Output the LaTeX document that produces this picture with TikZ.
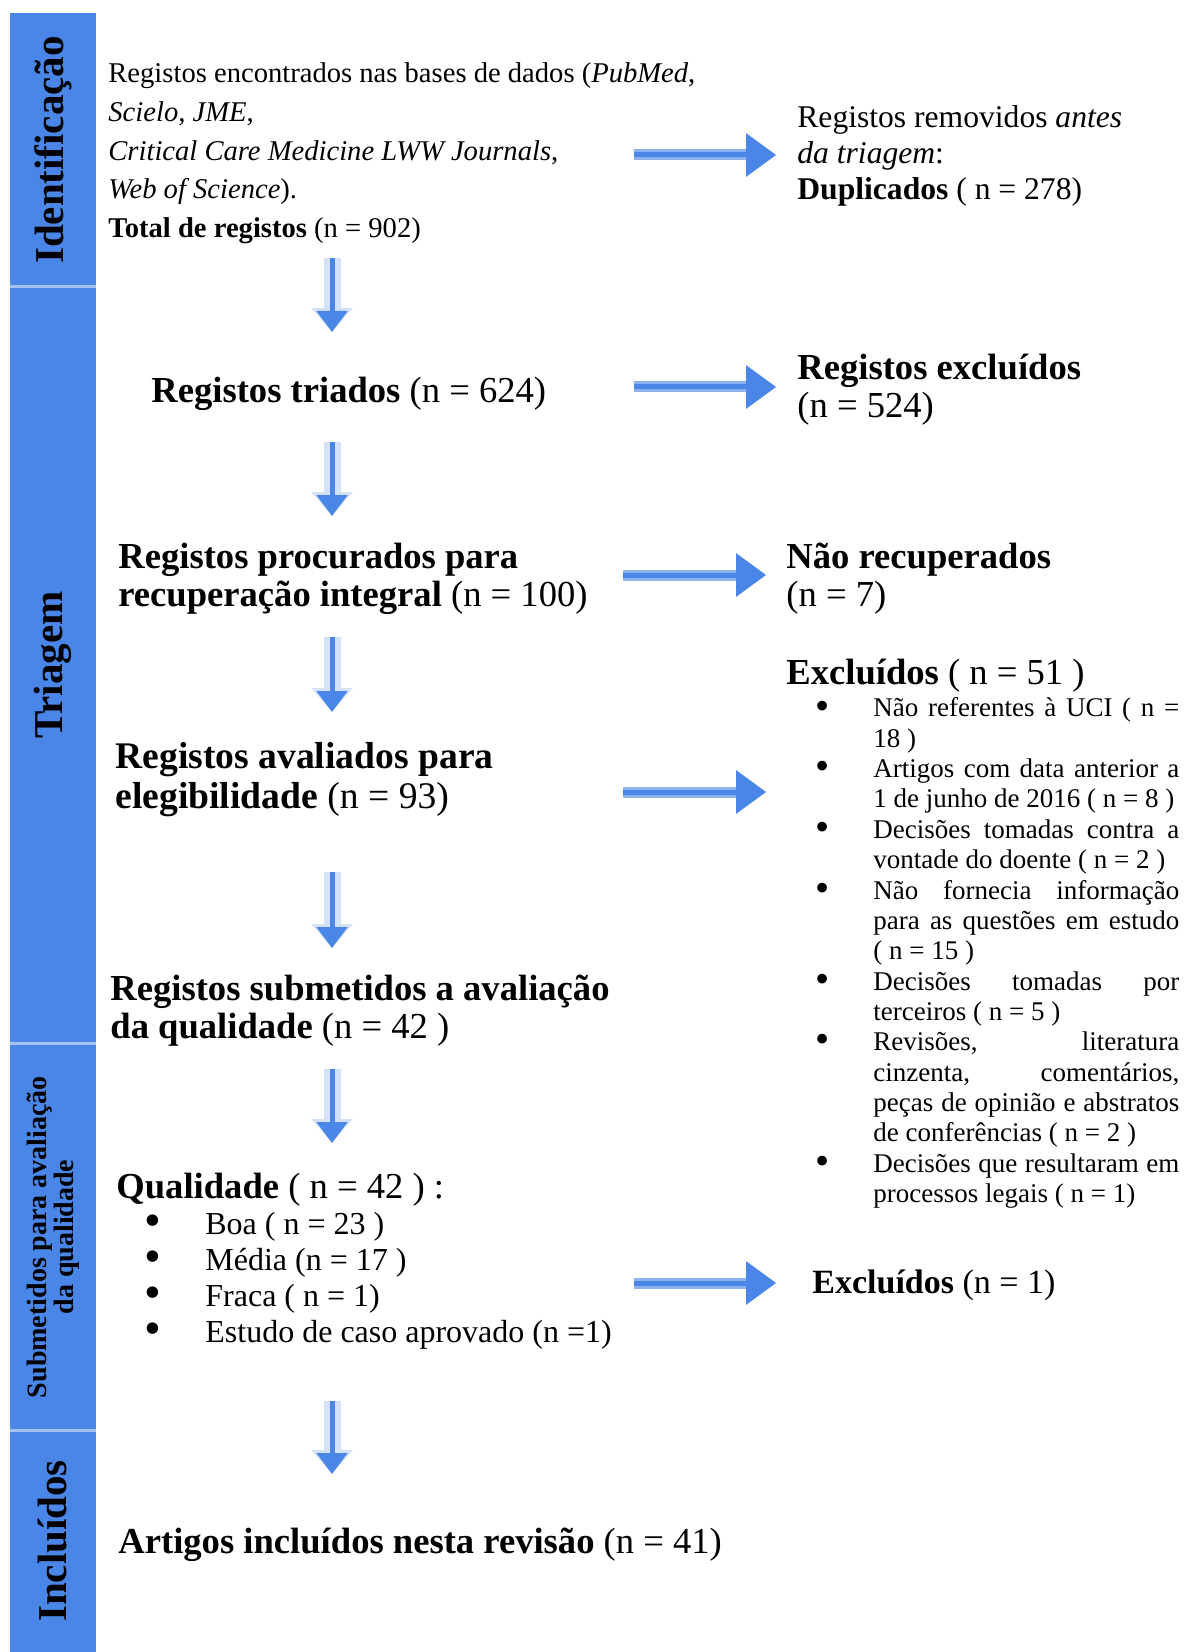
\documentclass[tikz,border=0pt]{standalone}
\usepackage{fontspec}
\setmainfont{Liberation Serif}
\usetikzlibrary{arrows.meta}

\definecolor{barblue}{HTML}{4A86E8}
\definecolor{barline}{HTML}{A4C2F4}
\definecolor{haloh}{HTML}{8DB2F0}
\definecolor{halov}{HTML}{D3E1F9}

\newcommand{\itembullet}{\llap{\smash{\raisebox{-0.08em}{\scalebox{1.5}{\textbullet}}}\hspace{22pt}}}

\begin{document}
\begin{tikzpicture}[x=0.5pt, y=-0.5pt,
  every node/.style={inner sep=0pt, anchor=base west, align=left},
  corpo/.style={font=\fontsize{14.3pt}{19.3pt}\selectfont},
  titulo/.style={font=\fontsize{18.3pt}{19pt}\selectfont},
  lista/.style={font=\fontsize{13.5pt}{15.17pt}\selectfont},
  fase/.style={anchor=center, align=center, rotate=90,
    font=\bfseries\fontsize{20.5pt}{24pt}\selectfont},
  haloH/.style={draw=haloh, line width=5.5pt, -{Triangle[width=21pt,length=15pt]}},
  setaH/.style={draw=barblue, line width=2.5pt, -{Triangle[width=21pt,length=15pt]}},
  haloV/.style={draw=halov, line width=8.5pt, -{Triangle[width=20pt,length=12pt]}},
  setaV/.style={draw=barblue, line width=2.5pt, -{Triangle[width=15pt,length=10.5pt]}}]
  \useasboundingbox (0,0) rectangle (1187,1652);

  % barra lateral das fases
  \fill[barblue] (10,13) rectangle (96,1652);
  \foreach \y in {287,1043,1430}
    \draw[barline, line width=1.5pt] (10,\y) -- (96,\y);
  \node[fase] (lid) at (53,150) {Identificação};
  \node[fase] (ltr) at (53,665) {Triagem};
  \node[fase, font=\bfseries\fontsize{14pt}{13.5pt}\selectfont] (lsub) at (53,1237)
    {Submetidos para avaliação\\da qualidade};
  \node[fase] (linc) at (53,1541) {Incluídos};

  % coluna principal (base = ultima linha)
  \node[corpo] (tot) at (108,237.4) {Registos encontrados nas bases de dados (\textit{PubMed},\\
    \textit{Scielo, JME},\\
    \textit{Critical Care Medicine LWW Journals},\\
    \textit{Web of Science}).\\
    \textbf{Total de registos} (n = 902)};
  \node[titulo] (tri) at (151,403) {\textbf{Registos triados} (n = 624)};
  \node[titulo] (proc) at (118,606) {\textbf{Registos procurados para}\\
    \textbf{recuperação integral} (n = 100)};
  \node[titulo, font=\fontsize{18.8pt}{20pt}\selectfont] (aval) at (115,808)
    {\textbf{Registos avaliados para}\\
    \textbf{elegibilidade} (n = 93)};
  \node[titulo] (subm) at (110,1038) {\textbf{Registos submetidos a avaliação}\\
    \textbf{da qualidade} (n = 42 )};
  \node[titulo] (qual) at (116,1198) {\textbf{Qualidade} ( n = 42 ) :};
  \node[font=\fontsize{16pt}{18pt}\selectfont] (qitems) at (205,1342)
    {\itembullet Boa ( n = 23 )\\
    \itembullet Média (n = 17 )\\
    \itembullet Fraca ( n = 1)\\
    \itembullet Estudo de caso aprovado (n =1)};
  \node[titulo] (incl) at (118,1553) {\textbf{Artigos incluídos nesta revisão} (n = 41)};

  % coluna das exclusoes
  \node[font=\fontsize{15.8pt}{17.9pt}\selectfont] (dup) at (797,199.1)
    {Registos removidos \textit{antes}\\
    \textit{da triagem}:\\
    \textbf{Duplicados} ( n = 278)};
  \node[titulo, font=\fontsize{18.3pt}{18.75pt}\selectfont] (excl) at (797,417.5)
    {\textbf{Registos excluídos}\\(n = 524)};
  \node[titulo] (naorec) at (786,606) {\textbf{Não recuperados}\\(n = 7)};
  \node[titulo] (excl51) at (786,684) {\textbf{Excluídos} ( n = 51 )};
  \node[lista] (motivos) at (873,1202.4)
    {\itembullet\makebox[153pt][s]{Não referentes à UCI ( n =}\\
    18 )\\
    \itembullet\makebox[153pt][s]{Artigos com data anterior a}\\
    1 de junho de 2016 ( n = 8 )\\
    \itembullet\makebox[153pt][s]{Decisões tomadas contra a}\\
    vontade do doente ( n = 2 )\\
    \itembullet\makebox[153pt][s]{Não fornecia informação}\\
    \makebox[153pt][s]{para as questões em estudo}\\
    ( n = 15 )\\
    \itembullet\makebox[153pt][s]{Decisões tomadas por}\\
    terceiros ( n = 5 )\\
    \itembullet\makebox[153pt][s]{Revisões, literatura}\\
    \makebox[153pt][s]{cinzenta, comentários,}\\
    \makebox[153pt][s]{peças de opinião e abstratos}\\
    de conferências ( n = 2 )\\
    \itembullet\makebox[153pt][s]{Decisões que resultaram em}\\
    processos legais ( n = 1)};
  \node[font=\fontsize{17pt}{19pt}\selectfont] (excl1) at (812,1293)
    {\textbf{Excluídos} (n = 1)};

  % setas para baixo
  \coordinate (ax) at (332,0);
  \foreach \de/\ds/\para/\pe in {tot/10.3pt/tri/35.5pt, tri/19.5pt/proc/45pt,
      proc/15.5pt/aval/48pt, aval/32pt/subm/45pt, subm/15.5pt/qual/27.5pt,
      qitems/29.5pt/incl/39.5pt} {
    \draw[haloV, shorten <=\ds, shorten >=\pe] (ax |- \de.base) -- (ax |- \para.base);
    \draw[setaV, shorten <=\ds, shorten >=\pe] (ax |- \de.base) -- (ax |- \para.base);
  }

  % setas para a direita
  \coordinate (h1) at (634,155);
  \coordinate (h2) at (634,387);
  \coordinate (h3) at (623,575);
  \coordinate (h4) at (623,792);
  \coordinate (h5) at (634,1283);
  \foreach \h/\alvo/\folga in {h1/dup/10.5pt, h2/excl/10.5pt, h3/naorec/10pt,
      h4/excl51/10pt, h5/excl1/18pt} {
    \draw[haloH, shorten >=\folga] (\h) -- (\h -| \alvo.west);
    \draw[setaH, shorten >=\folga] (\h) -- (\h -| \alvo.west);
  }
\end{tikzpicture}
\end{document}
